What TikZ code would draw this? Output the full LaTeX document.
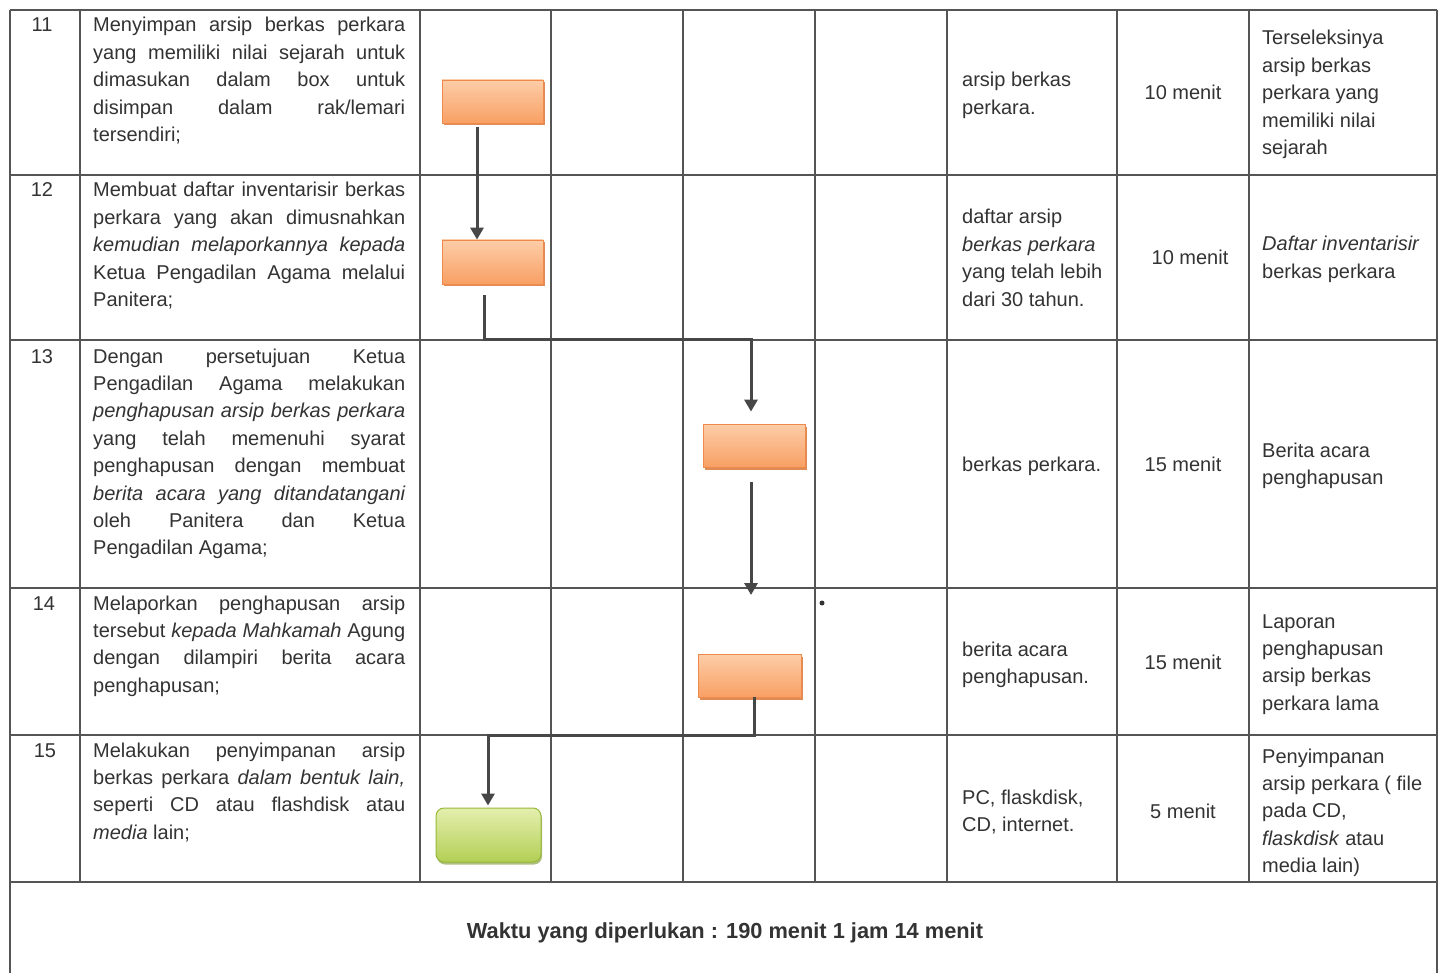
\documentclass[tikz,border=0pt]{standalone}
\usepackage{fontspec}
\setmainfont{Liberation Sans}
\usetikzlibrary{arrows.meta,calc,shadows}
\definecolor{ink}{HTML}{333333}
\definecolor{gridc}{HTML}{555555}
\definecolor{arrowc}{HTML}{474747}
\definecolor{orTop}{HTML}{FDCDA8}
\definecolor{orBot}{HTML}{F8A064}
\definecolor{orEdge}{HTML}{EE8A4C}
\definecolor{orShade}{HTML}{D9773A}
\definecolor{grTop}{HTML}{E4EFAE}
\definecolor{grBot}{HTML}{B3CF55}
\definecolor{grEdge}{HTML}{98B83A}
\newcommand\jline[1]{\makebox[312pt][s]{\spaceskip=0pt\xspaceskip=0pt #1}}
\begin{document}
\begin{tikzpicture}[x=1pt,y=-1pt,
  gridline/.style={draw=gridc,line width=1.1pt},
  txt/.style={inner sep=0pt,text=ink,font=\fontsize{20}{27.4}\selectfont,align=left,anchor=base west,text width=#1,
    execute at begin node={\spaceskip=0pt\xspaceskip=0pt}},
  txt/.default=180pt,
  num/.style={inner sep=0pt,text=ink,font=\fontsize{20}{27.4}\selectfont,anchor=base},
  obox/.style={rectangle,inner sep=0pt,minimum width=101pt,minimum height=43pt,
    top color=orTop,bottom color=orBot,draw=orEdge,line width=0.8pt,
    drop shadow={shadow xshift=2pt,shadow yshift=-2.5pt,fill=orShade,opacity=0.85}},
  gbox/.style={rectangle,inner sep=0pt,rounded corners=8pt,minimum width=105pt,minimum height=54pt,
    top color=grTop,bottom color=grBot,draw=grEdge,line width=1pt,
    drop shadow={shadow xshift=1pt,shadow yshift=-2.5pt,fill=grEdge!80!black,opacity=0.6}},
  arr/.style={draw=arrowc,line width=3pt,-{Triangle[width=13pt,length=12pt]}},
]
\useasboundingbox (0,0) rectangle (1442,973);
\fill[white] (0,0) rectangle (1442,973);

% grid
\draw[gridline] (10,10) -- (1437,10);
\foreach \yy in {175,340,588,735,882} \draw[gridline] (10,\yy) -- (1437,\yy);
\draw[gridline] (10,10) -- (10,973);
\draw[gridline] (1437,10) -- (1437,973);
\foreach \xx in {80,420,551,683,815,947,1117,1249} \draw[gridline] (\xx,10) -- (\xx,882);

% boxes
\node[obox] (b11) at (492.5,101.5) {};
\node[obox,minimum height=44pt] (b12) at (492.5,262) {};
\node[obox,minimum width=102pt] (b13) at (754,445.5) {};
\node[obox,minimum width=103pt] (b14) at (749.5,675.5) {};
\node[gbox] (b15) at (488.5,835) {};
\coordinate (e3) at (751,595);
\node[circle,fill=ink,inner sep=0pt,minimum size=5pt] (dot) at (822,603) {};

% connectors
\draw[arr] ($(b11.south)+(-15.5,4)$) -- ($(b12.north)+(-15.5,0)$);
\draw[arr] ($(b12.south)+(-8.5,11)$) |- ($(b13.north)+(-3,-84)$) -- ($(b13.north)+(-3,-12)$);
\draw[arr] ($(b13.south)+(-3,15)$) -- (e3);
\draw[arr] ($(b14.south)+(4.5,0)$) |- ($(b15.north)+(-0.5,-72)$) -- ($(b15.north)+(-0.5,-2)$);

% numbers
\node[num] (n11) at (42,32) {11};
\node[num] (n12) at (42,197) {12};
\node[num] (n13) at (42,363) {13};
\node[num] (n14) at (44,610) {14};
\node[num] (n15) at (45,757) {15};

% descriptions
\node[txt=312pt] (d11) at (93,32) {\jline{Menyimpan arsip berkas perkara}\\
\jline{yang memiliki nilai sejarah untuk}\\
\jline{dimasukan dalam box untuk}\\
\jline{disimpan dalam rak/lemari}\\
tersendiri;};
\node[txt=312pt] (d12) at (93,197) {\jline{Membuat daftar inventarisir berkas}\\
\jline{perkara yang akan dimusnahkan}\\
\jline{\itshape kemudian melaporkannya kepada}\\
\jline{Ketua Pengadilan Agama melalui}\\
Panitera;};
\node[txt=312pt] (d13) at (93,363) {\jline{Dengan persetujuan Ketua}\\
\jline{Pengadilan Agama melakukan}\\
\jline{\itshape penghapusan arsip berkas perkara}\\
\jline{yang telah memenuhi syarat}\\
\jline{penghapusan dengan membuat}\\
\jline{\itshape berita acara yang ditandatangani}\\
\jline{oleh Panitera dan Ketua}\\
Pengadilan Agama;};
\node[txt=312pt] (d14) at (93,610) {\jline{Melaporkan penghapusan arsip}\\
\jline{tersebut \textit{kepada Mahkamah} Agung}\\
\jline{dengan dilampiri berita acara}\\
penghapusan;};
\node[txt=312pt] (d15) at (93,757) {\jline{Melakukan penyimpanan arsip}\\
\jline{berkas perkara \textit{dalam bentuk lain,}}\\
\jline{seperti CD atau flashdisk atau}\\
\textit{media} lain;};

% input column
\node[txt=155pt] (i11) at (962,87) {arsip berkas\\perkara.};
\node[txt=155pt] (i12) at (962,224) {daftar arsip\\\textit{berkas perkara}\\yang telah lebih\\dari 30 tahun.};
\node[txt=155pt] (i13) at (962,471) {berkas perkara.};
\node[txt=155pt] (i14) at (962,656) {berita acara\\penghapusan.};
\node[txt=155pt] (i15) at (962,804) {PC, flaskdisk,\\CD, internet.};

% time column
\node[num] (w11) at (1183,100) {10 menit};
\node[num] (w12) at (1190,265) {10 menit};
\node[num] (w13) at (1183,471) {15 menit};
\node[num] (w14) at (1183,669) {15 menit};
\node[num] (w15) at (1183,818) {5 menit};

% output column
\node[txt=172pt] (o11) at (1262,45) {Terseleksinya\\arsip berkas\\perkara yang\\memiliki nilai\\sejarah};
\node[txt=172pt] (o12) at (1262,251) {\textit{Daftar inventarisir}\\berkas perkara};
\node[txt=172pt] (o13) at (1262,457) {Berita acara\\penghapusan};
\node[txt=172pt] (o14) at (1262,628) {Laporan\\penghapusan\\arsip berkas\\perkara lama};
\node[txt=172pt] (o15) at (1262,763) {Penyimpanan\\arsip perkara ( file\\pada CD,\\\textit{flaskdisk} atau\\media lain)};

% footer
\node[inner sep=0pt,text=ink,font=\bfseries\fontsize{21.8}{26}\selectfont,anchor=base] (foot) at (725,938) {Waktu yang diperlukan : 190 menit 1 jam 14 menit};
\end{tikzpicture}
\end{document}
